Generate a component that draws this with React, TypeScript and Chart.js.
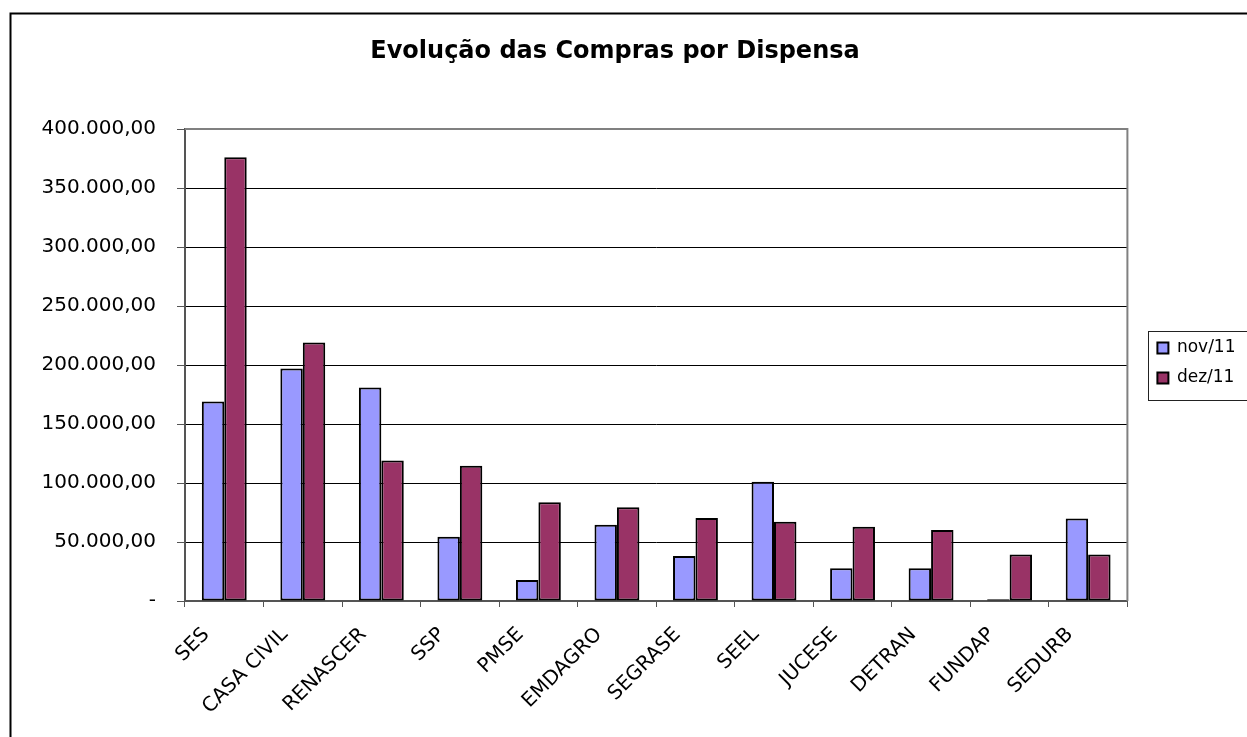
import React, { useEffect, useRef } from "react";
import { Chart, registerables } from "chart.js";

Chart.register(...registerables);

const categories = ["SES", "CASA CIVIL", "RENASCER", "SSP", "PMSE", "EMDAGRO", "SEGRASE", "SEEL", "JUCESE", "DETRAN", "FUNDAP", "SEDURB"];
const novValues = [169000, 197000, 181000, 54500, 17800, 64700, 38100, 101000, 27700, 27700, 1500, 70000];
const dezValues = [376000, 219000, 119000, 114700, 83600, 79400, 70300, 67200, 63000, 60200, 39500, 39500];
const seriesNames = ["nov/11", "dez/11"];
const chartTitle = "Evolução das Compras por Dispensa";
const yMin = 0;
const yMax = 400000;
const yStep = 50000;

function formatBR(v: number): string {
  if (v === 0) return "-";
  const intPart = Math.round(v).toString().replace(/\B(?=(\d{3})+(?!\d))/g, ".");
  return intPart + ",00";
}

const LEGEND_LP = 13;

const decorPlugin = {
  id: "decor",
  afterLayout(chart: any) {
    const lg = chart.legend;
    if (!lg) return;
    const target = chart.chartArea.right + 30;
    const dx = target - (lg.left + LEGEND_LP);
    lg.left += dx;
    lg.right += dx;
    lg.top -= 2;
    lg.bottom -= 2;
  },
  beforeDatasetsDraw(chart: any) {
    const { ctx, chartArea } = chart;
    ctx.save();
    ctx.strokeStyle = "#808080";
    ctx.lineWidth = 2;
    ctx.beginPath();
    ctx.moveTo(chartArea.left, chartArea.top);
    ctx.lineTo(chartArea.right, chartArea.top);
    ctx.lineTo(chartArea.right, chartArea.bottom);
    ctx.stroke();
    ctx.restore();
  },
  afterDraw(chart: any) {
    const { ctx } = chart;
    const lg = chart.legend;
    ctx.save();
    if (lg && lg.columnSizes && lg.columnSizes.length) {
      const colH = lg.columnSizes[0].height;
      const y0 = (lg.top + LEGEND_LP + lg.bottom - colH) / 2;
      const x0 = lg.left + LEGEND_LP - 9;
      ctx.strokeStyle = "#222";
      ctx.lineWidth = 1;
      ctx.strokeRect(Math.round(x0) + 0.5, Math.round(y0 - 9) + 0.5, 400, colH + 9);
    }
    ctx.strokeStyle = "#000";
    ctx.lineWidth = 2;
    ctx.strokeRect(10.5, 13.5, 3000, 3000);
    ctx.restore();
  },
};

export default function App() {
  const canvasRef = useRef<HTMLCanvasElement | null>(null);

  useEffect(() => {
    if (!canvasRef.current) return;
    Chart.defaults.font.family = "'DejaVu Sans', sans-serif";
    Chart.defaults.color = "#000";
    const chart = new Chart(canvasRef.current, {
      type: "bar",
      data: {
        labels: categories,
        datasets: [
          {
            label: seriesNames[0],
            data: novValues,
            backgroundColor: "#9999FF",
            borderColor: "#000",
            borderWidth: 2,
            borderSkipped: false,
          },
          {
            label: seriesNames[1],
            data: dezValues,
            backgroundColor: "#993366",
            borderColor: "#000",
            borderWidth: 2,
            borderSkipped: false,
          },
        ],
      },
      options: {
        responsive: false,
        animation: false,
        layout: { padding: { left: 1.5, right: 18.5, top: 0, bottom: 0 } },
        datasets: {
          bar: { categoryPercentage: 2 / 3.5, barPercentage: 1 },
        },
        plugins: {
          title: {
            display: true,
            text: chartTitle,
            color: "#000",
            font: { size: 24, weight: "bold", family: "'DejaVu Sans', sans-serif" },
            padding: { top: 37.5, bottom: 62.7 },
          },
          legend: {
            display: true,
            position: "right",
            fullSize: false,
            labels: {
              boxWidth: 11,
              boxHeight: 11,
              padding: LEGEND_LP,
              color: "#000",
              font: { size: 17, family: "'DejaVu Sans', sans-serif" },
            },
          },
          tooltip: { enabled: false },
        },
        scales: {
          x: {
            offset: true,
            grid: {
              offset: true,
              drawOnChartArea: false,
              drawTicks: true,
              tickLength: 6,
              color: "#555",
              lineWidth: 1,
            },
            border: { display: true, color: "#555", width: 2 },
            ticks: {
              autoSkip: false,
              maxRotation: 45,
              minRotation: 45,
              padding: 16,
              labelOffset: -18,
              color: "#000",
              font: { size: 20 },
            },
            afterFit(scale: any) {
              scale.height = 136;
            },
          },
          y: {
            min: yMin,
            max: yMax,
            grid: {
              color: "#000",
              lineWidth: 1,
              drawTicks: true,
              tickLength: 8,
              tickColor: "#555",
            },
            border: { display: true, color: "#555", width: 2 },
            ticks: {
              stepSize: yStep,
              padding: 21,
              color: "#000",
              font: { size: 20 },
              callback: (v: any) => formatBR(Number(v)),
            },
            afterFit(scale: any) {
              scale.width = 183.5;
            },
          },
        },
      },
      plugins: [decorPlugin],
    } as any);
    return () => chart.destroy();
  }, []);

  return (
    <div style={{ position: "absolute", left: 0, top: 0, width: 1247, height: 737, overflow: "hidden", background: "#fff" }}>
      <canvas ref={canvasRef} width={1247} height={737} style={{ display: "block" }} />
    </div>
  );
}
